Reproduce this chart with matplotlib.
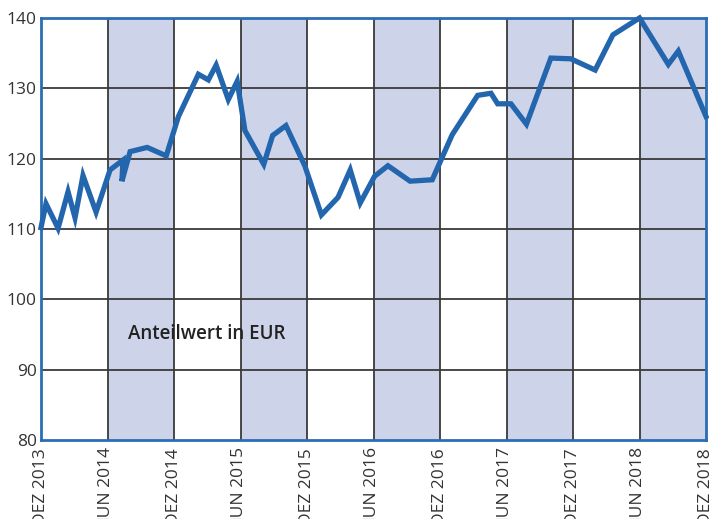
import matplotlib
matplotlib.use('Agg')
import matplotlib.pyplot as plt

# fund share value, months counted from DEZ 2013
months = [0, 0.45, 1.54, 2.44, 3.07, 3.79, 4.97, 6.23, 7.4, 7.3, 8.04, 9.58, 11.3,
          12.4, 14.2, 15.1, 15.8, 16.9, 17.7, 18.4, 20.1, 20.9, 22.1, 23.8, 25.3,
          26.8, 27.9, 28.8, 30.1, 31.3, 33.3, 35.3, 37.1, 39.4, 40.6, 41.2, 42.4,
          43.8, 46.0, 47.8, 50.0, 51.6, 54.0, 56.6, 57.5, 60.0]
values = [110.2, 113.6, 110.1, 115.3, 111.6, 117.6, 112.4, 118.4, 119.8, 116.8, 121.0,
          121.6, 120.4, 126.0, 132.0, 131.2, 133.3, 128.4, 131.0, 124.0, 119.2, 123.3,
          124.7, 119.0, 112.0, 114.5, 118.4, 113.7, 117.5, 119.0, 116.8, 117.0, 123.4,
          129.0, 129.3, 127.8, 127.8, 124.9, 134.3, 134.2, 132.6, 137.6, 140.0, 133.4,
          135.3, 126.0]

tick_labels = ['DEZ 2013', 'JUN 2014', 'DEZ 2014', 'JUN 2015', 'DEZ 2015', 'JUN 2016',
               'DEZ 2016', 'JUN 2017', 'DEZ 2017', 'JUN 2018', 'DEZ 2018']
tick_pos = [6 * i for i in range(len(tick_labels))]
y_ticks = [80, 90, 100, 110, 120, 130, 140]

plt.rcParams['font.family'] = ['Open Sans', 'DejaVu Sans']

fig = plt.figure(figsize=(7.09, 5.19), dpi=100)
ax = fig.add_axes([41 / 709, 79 / 519, 665 / 709, 422 / 519])

# shaded half-years (JUN - DEZ)
for start in tick_pos[1::2]:
    ax.axvspan(start, start + 6, color='#cdd4e9', lw=0, zorder=0)

for x in tick_pos[1:-1]:
    ax.axvline(x, color='#3a3a3a', lw=1.3, zorder=1)
for y in y_ticks[1:-1]:
    ax.axhline(y, color='#3a3a3a', lw=1.3, zorder=1)

ax.plot(months, values, color='#2366ae', lw=3.8, solid_joinstyle='miter',
        zorder=3, clip_on=False)

ax.set_xlim(0, 60)
ax.set_ylim(80, 140)
ax.set_xticks(tick_pos)
ax.set_xticklabels(tick_labels, rotation=90, va='top', ha='center')
ax.set_yticks(y_ticks)
ax.tick_params(length=0, labelsize=12.5, colors='#333333', pad=6)
ax.tick_params(axis='y', pad=3)

for s in ax.spines.values():
    s.set_color('#2a6db5')
    s.set_linewidth(2)

ax.text(7.85, 95.1, 'Anteilwert in EUR', fontsize=13.5, fontweight='semibold',
        color='#222222', va='center', ha='left', zorder=4)

fig.savefig('out.png', dpi=100)
